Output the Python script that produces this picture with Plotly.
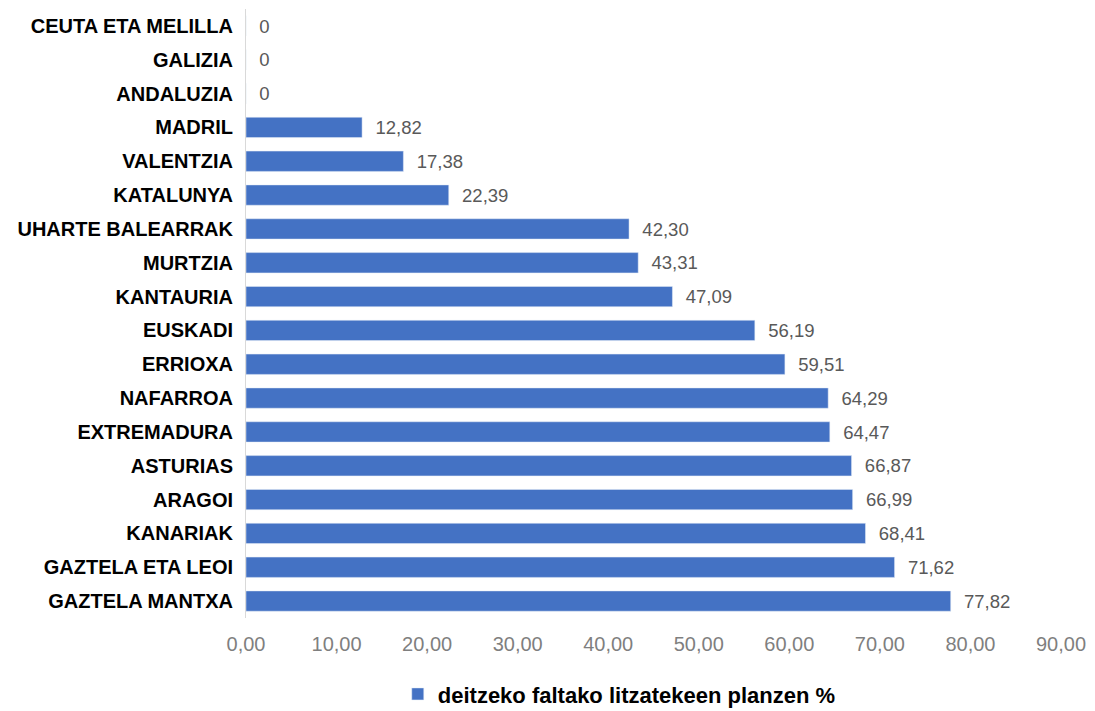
import plotly.graph_objects as go

categories = ["GAZTELA MANTXA", "GAZTELA ETA LEOI", "KANARIAK", "ARAGOI", "ASTURIAS",
              "EXTREMADURA", "NAFARROA", "ERRIOXA", "EUSKADI", "KANTAURIA", "MURTZIA",
              "UHARTE BALEARRAK", "KATALUNYA", "VALENTZIA", "MADRIL", "ANDALUZIA",
              "GALIZIA", "CEUTA ETA MELILLA"]
values = [77.82, 71.62, 68.41, 66.99, 66.87, 64.47, 64.29, 59.51, 56.19, 47.09, 43.31,
          42.30, 22.39, 17.38, 12.82, 0, 0, 0]
series_name = "deitzeko faltako litzatekeen planzen %"
x_ticks = [0, 10, 20, 30, 40, 50, 60, 70, 80, 90]

def fmt(v):
    if v == 0:
        return "  0"
    return "  " + f"{v:.2f}".replace(".", ",")

labels = [fmt(v) for v in values]

fig = go.Figure()
fig.add_trace(go.Bar(
    y=categories, x=values, orientation="h", name=series_name,
    marker=dict(color="#4472C4"),
    text=labels, textposition="outside", cliponaxis=False,
    textfont=dict(family="Liberation Sans", size=21, color="#595959"),
))

fig.update_layout(
    width=1087, height=703,
    margin=dict(l=238, r=34, t=1, b=93, autoexpand=False),
    paper_bgcolor="white", plot_bgcolor="white",
    separators=",.",
    bargap=0.4,
    showlegend=True,
    legend=dict(orientation="h", x=0.458, xanchor="center", y=-0.125, yanchor="middle",
                font=dict(family="Liberation Sans", size=22, color="#000000", weight="bold")),
    xaxis=dict(range=[0, 90], tickvals=x_ticks, tickformat=".2f", showgrid=False,
               zeroline=False, showline=False, ticks="", automargin=False,
               ticklabelstandoff=12,
               tickfont=dict(family="Liberation Sans", size=20, color="#7f7f7f")),
    yaxis=dict(categoryorder="array", categoryarray=categories, showgrid=False,
               showline=True, linecolor="#d9d9d9", linewidth=1, ticks="",
               ticklabelstandoff=8, automargin=False,
               tickfont=dict(family="Liberation Sans", size=20, color="#000000",
                             weight="bold")),
)

fig.write_html("out.html")
